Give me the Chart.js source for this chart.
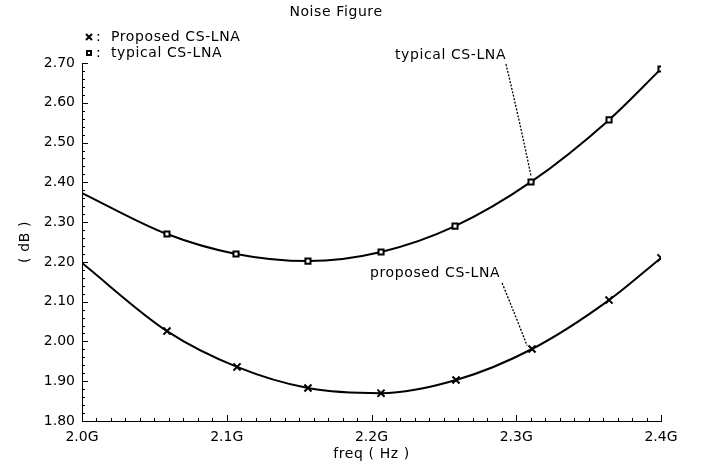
<!DOCTYPE html>
<html>
<head>
<meta charset="utf-8">
<script src="https://cdn.jsdelivr.net/npm/chart.js@4"></script>
<style>
  html, body { margin: 0; padding: 0; background: #fff; }
  canvas { display: block; }
</style>
</head>
<body>
<canvas id="nf" width="709" height="473"></canvas>
<script>
// frequencies (GHz) and noise figure (dB)
const typicalFreq = [2.0, 2.0587, 2.1064, 2.1561, 2.2066, 2.2577, 2.3102, 2.3641, 2.4];
const typicalNF   = [2.373, 2.270, 2.220, 2.202, 2.225, 2.290, 2.401, 2.557, 2.685];
const proposedFreq = [2.0, 2.0587, 2.1071, 2.1561, 2.2066, 2.2584, 2.3109, 2.3641, 2.4];
const proposedNF   = [2.197, 2.026, 1.936, 1.883, 1.870, 1.903, 1.981, 2.104, 2.210];
const xTicks = [2.0, 2.1, 2.2, 2.3, 2.4];
const yTicks = [1.8, 1.9, 2.0, 2.1, 2.2, 2.3, 2.4, 2.5, 2.6, 2.7];

const FONT = '"DejaVu Sans", sans-serif';

const toPoints = (xs, ys) => xs.map((x, i) => ({ x: x, y: ys[i] }));
// no marker on the first sample
const markerRadius = (n, r) => Array.from({ length: n }, (_, i) => i === 0 ? 0 : r);

// inward major/minor ticks like the original plot
const axisTicks = {
  id: 'axisTicks',
  afterDraw(chart) {
    const { ctx, chartArea: a, scales: { x, y } } = chart;
    ctx.save();
    ctx.strokeStyle = '#000';
    ctx.lineWidth = 1;
    ctx.beginPath();
    for (let i = 0; i <= 40; i++) {
      const px = Math.round(x.getPixelForValue(2.0 + i * 0.01)) + 0.5;
      const len = i % 10 === 0 ? 6 : 3;
      ctx.moveTo(px, a.bottom);
      ctx.lineTo(px, a.bottom - len);
    }
    for (let i = 0; i <= 45; i++) {
      const py = Math.round(y.getPixelForValue(1.8 + i * 0.02)) + 0.5;
      const len = i % 5 === 0 ? 6 : 3;
      ctx.moveTo(a.left, py);
      ctx.lineTo(a.left + len, py);
    }
    ctx.stroke();
    ctx.restore();
  }
};

// title, legend, axis titles and the leader-line labels
const decorations = {
  id: 'decorations',
  afterDraw(chart) {
    const { ctx, chartArea: a, scales: { x, y } } = chart;
    ctx.save();
    ctx.fillStyle = '#000';
    ctx.strokeStyle = '#000';
    ctx.font = '14px ' + FONT;
    ctx.letterSpacing = '0.6px';
    ctx.textBaseline = 'middle';

    ctx.textAlign = 'center';
    ctx.fillText('Noise Figure', 336, 12);
    ctx.fillText('freq ( Hz )', (a.left + a.right) / 2, 454);

    ctx.save();
    ctx.translate(25, (a.top + a.bottom) / 2);
    ctx.rotate(-Math.PI / 2);
    ctx.fillText('( dB )', 0, 0);
    ctx.restore();

    // legend
    ctx.textAlign = 'left';
    ctx.lineWidth = 2;
    ctx.beginPath();
    ctx.moveTo(86, 34); ctx.lineTo(92, 40);
    ctx.moveTo(92, 34); ctx.lineTo(86, 40);
    ctx.stroke();
    ctx.fillRect(86, 50, 6, 6);
    ctx.fillStyle = '#fff';
    ctx.fillRect(88, 52, 2, 2);
    ctx.fillStyle = '#000';
    ctx.fillText(':', 96, 37);
    ctx.fillText(':', 96, 53);
    ctx.fillText('Proposed CS-LNA', 111, 37);
    ctx.fillText('typical CS-LNA', 111, 53);

    // leader labels
    const labels = [
      { text: 'typical CS-LNA', tx: 2.2162, ty: 2.720, from: [2.2929, 2.697], ctrl: [2.302, 2.56], to: [2.3102, 2.416] },
      { text: 'proposed CS-LNA', tx: 2.199, ty: 2.172, from: [2.2902, 2.147], ctrl: [2.300, 2.06], to: [2.3074, 1.990] }
    ];
    labels.forEach(l => {
      ctx.fillText(l.text, x.getPixelForValue(l.tx), y.getPixelForValue(l.ty));
      ctx.lineWidth = 1.3;
      ctx.setLineDash([2, 1.5]);
      ctx.beginPath();
      ctx.moveTo(x.getPixelForValue(l.from[0]), y.getPixelForValue(l.from[1]));
      ctx.quadraticCurveTo(x.getPixelForValue(l.ctrl[0]), y.getPixelForValue(l.ctrl[1]),
                           x.getPixelForValue(l.to[0]), y.getPixelForValue(l.to[1]));
      ctx.stroke();
      ctx.setLineDash([]);
    });
    ctx.restore();
  }
};

new Chart(document.getElementById('nf'), {
  type: 'line',
  data: {
    datasets: [
      {
        label: 'Proposed CS-LNA',
        data: toPoints(proposedFreq, proposedNF),
        borderColor: '#000',
        borderWidth: 2,
        cubicInterpolationMode: 'monotone',
        pointStyle: 'crossRot',
        pointRadius: markerRadius(proposedFreq.length, 5),
        pointBorderColor: '#000',
        pointBorderWidth: 2
      },
      {
        label: 'typical CS-LNA',
        data: toPoints(typicalFreq, typicalNF),
        borderColor: '#000',
        borderWidth: 2,
        cubicInterpolationMode: 'monotone',
        pointStyle: 'rect',
        pointRadius: markerRadius(typicalFreq.length, 3.6),
        pointBackgroundColor: '#fff',
        pointBorderColor: '#000',
        pointBorderWidth: 2
      }
    ]
  },
  options: {
    responsive: false,
    animation: false,
    devicePixelRatio: 1,
    layout: { padding: { top: 63, right: 48, left: 0, bottom: 0 } },
    plugins: {
      legend: { display: false },
      title: { display: false },
      tooltip: { enabled: false }
    },
    scales: {
      x: {
        type: 'linear',
        min: 2.0,
        max: 2.4,
        afterFit: s => { s.height = 52; },
        afterBuildTicks: s => { s.ticks = xTicks.map(v => ({ value: v })); },
        ticks: {
          color: '#000',
          font: { family: FONT, size: 14 },
          padding: 8,
          maxRotation: 0,
          callback: v => v.toFixed(1) + 'G'
        },
        grid: { drawOnChartArea: false, drawTicks: false },
        border: { color: '#000', width: 1 }
      },
      y: {
        min: 1.8,
        max: 2.7,
        afterFit: s => { s.width = 82; },
        afterBuildTicks: s => { s.ticks = yTicks.map(v => ({ value: v })); },
        ticks: {
          color: '#000',
          font: { family: FONT, size: 14 },
          padding: 7,
          callback: v => v.toFixed(2)
        },
        grid: { drawOnChartArea: false, drawTicks: false },
        border: { color: '#000', width: 1 }
      }
    }
  },
  plugins: [axisTicks, decorations]
});
</script>
</body>
</html>
